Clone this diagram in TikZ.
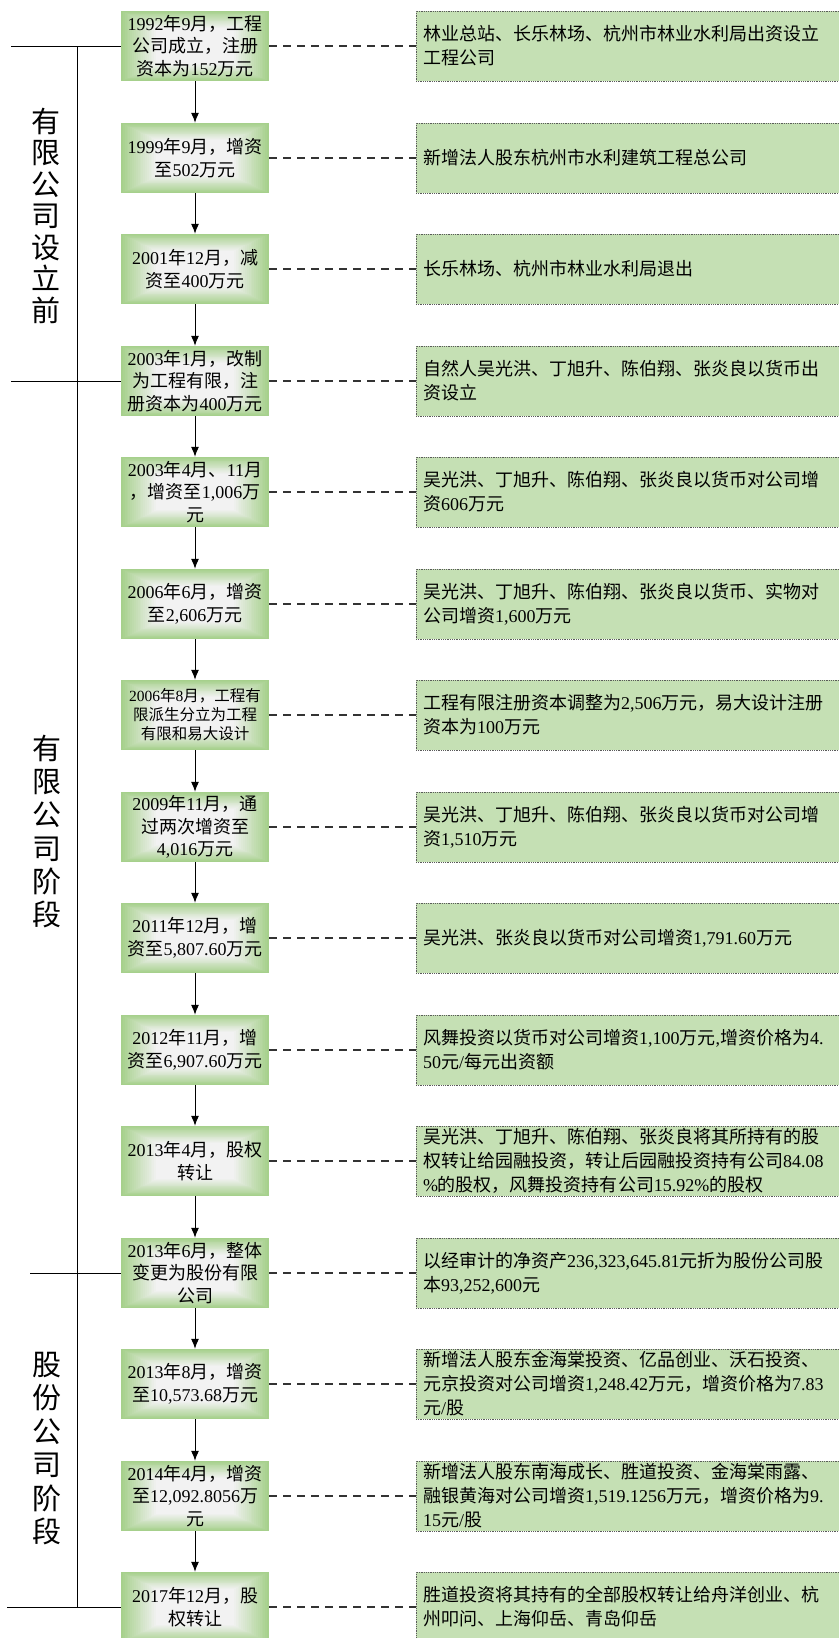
\documentclass[tikz,border=0pt]{standalone}
\usepackage{fontspec}
\setmainfont{Liberation Serif}
\newfontfamily\latinfont{Liberation Serif}
\newfontfamily\cjkfont{Noto Sans CJK SC}
\usetikzlibrary{calc,arrows.meta}
\XeTeXinterchartokenstate=1
\newXeTeXintercharclass\cjkcls
\newcount\cjkc
\def\setcjkrange#1#2{\cjkc=#1\relax\loop\XeTeXcharclass\cjkc=\cjkcls\relax\ifnum\cjkc<#2\relax\advance\cjkc by 1\relax\repeat}
\setcjkrange{"4E00}{"9FFF}
\setcjkrange{"3000}{"303F}
\setcjkrange{"FF00}{"FFEF}
\XeTeXinterchartoks 0 \cjkcls = {\cjkfont}
\XeTeXinterchartoks 4095 \cjkcls = {\cjkfont}
\XeTeXinterchartoks \cjkcls 0 = {\latinfont}
\XeTeXinterchartoks \cjkcls 4095 = {\latinfont}
\definecolor{boxgreen}{RGB}{166,208,140}
\definecolor{boxlight}{RGB}{242,242,242}
\definecolor{rfill}{RGB}{197,224,180}
\definecolor{rborder}{RGB}{90,90,90}
\tikzset{
  lbox/.style={minimum width=148pt, minimum height=70pt, inner sep=2pt, align=center,
    fill=boxgreen, font=\fontsize{18}{22.5}\selectfont,
    path picture={
      \foreach \k in {1,...,40}{
        \pgfmathsetmacro\ff{\k/80}
        \pgfmathsetmacro\pp{min(100,\k*100/19)}
        \fill[boxlight!\pp!boxgreen]
          ($(path picture bounding box.south west)!\ff!(path picture bounding box.north east)$)
          rectangle
          ($(path picture bounding box.north east)!\ff!(path picture bounding box.south west)$);
      }
    }},
  rbox/.style={minimum width=424pt, minimum height=70pt, text width=410pt,
    inner xsep=7pt, inner ysep=2pt, align=left, fill=rfill, draw=rborder,
    line width=0.8pt, dash pattern=on 0.9pt off 0.9pt,
    font=\fontsize{18}{24}\selectfont},
  flowarrow/.style={line width=1pt, -{Latex[length=10pt,width=8pt]}},
  linkline/.style={line width=1.3pt, draw=black!80, dash pattern=on 8pt off 6pt},
  sepline/.style={line width=1pt},
  phase/.style={align=center, inner sep=0pt}
}
\begin{document}
\begin{tikzpicture}[x=1pt,y=-1pt]
\useasboundingbox (0,0) rectangle (838,1638);
% left boxes
\node[lbox] (L1) at (195,46) {1992年9月，工程\\公司成立，注册\\资本为152万元};
\node[lbox] (L2) at (195,158) {1999年9月，增资\\至502万元};
\node[lbox] (L3) at (195,269) {2001年12月，减\\资至400万元};
\node[lbox] (L4) at (195,381) {2003年1月，改制\\为工程有限，注\\册资本为400万元};
\node[lbox] (L5) at (195,492) {2003年4月、11月\\，增资至1,006万\\元};
\node[lbox] (L6) at (195,604) {2006年6月，增资\\至2,606万元};
\node[lbox, font=\fontsize{15.5}{19}\selectfont] (L7) at (195,715) {2006年8月，工程有\\限派生分立为工程\\有限和易大设计};
\node[lbox] (L8) at (195,827) {2009年11月，通\\过两次增资至\\4,016万元};
\node[lbox] (L9) at (195,938) {2011年12月，增\\资至5,807.60万元};
\node[lbox] (L10) at (195,1050) {2012年11月，增\\资至6,907.60万元};
\node[lbox] (L11) at (195,1161) {2013年4月，股权\\转让};
\node[lbox] (L12) at (195,1273) {2013年6月，整体\\变更为股份有限\\公司};
\node[lbox] (L13) at (195,1384) {2013年8月，增资\\至10,573.68万元};
\node[lbox] (L14) at (195,1496) {2014年4月，增资\\至12,092.8056万\\元};
\node[lbox] (L15) at (195,1607) {2017年12月，股\\权转让};
% right boxes
\node[rbox] (R1) at (628,46) {林业总站、长乐林场、杭州市林业水利局出资设立\\工程公司};
\node[rbox] (R2) at (628,158) {新增法人股东杭州市水利建筑工程总公司};
\node[rbox] (R3) at (628,269) {长乐林场、杭州市林业水利局退出};
\node[rbox] (R4) at (628,381) {自然人吴光洪、丁旭升、陈伯翔、张炎良以货币出\\资设立};
\node[rbox] (R5) at (628,492) {吴光洪、丁旭升、陈伯翔、张炎良以货币对公司增\\资606万元};
\node[rbox] (R6) at (628,604) {吴光洪、丁旭升、陈伯翔、张炎良以货币、实物对\\公司增资1,600万元};
\node[rbox] (R7) at (628,715) {工程有限注册资本调整为2,506万元，易大设计注册\\资本为100万元};
\node[rbox] (R8) at (628,827) {吴光洪、丁旭升、陈伯翔、张炎良以货币对公司增\\资1,510万元};
\node[rbox] (R9) at (628,938) {吴光洪、张炎良以货币对公司增资1,791.60万元};
\node[rbox] (R10) at (628,1050) {风舞投资以货币对公司增资1,100万元,增资价格为4.\\50元/每元出资额};
\node[rbox] (R11) at (628,1161) {吴光洪、丁旭升、陈伯翔、张炎良将其所持有的股\\权转让给园融投资，转让后园融投资持有公司84.08\\\%的股权，风舞投资持有公司15.92\%的股权};
\node[rbox] (R12) at (628,1273) {以经审计的净资产236,323,645.81元折为股份公司股\\本93,252,600元};
\node[rbox] (R13) at (628,1384) {新增法人股东金海棠投资、亿品创业、沃石投资、\\元京投资对公司增资1,248.42万元，增资价格为7.83\\元/股};
\node[rbox] (R14) at (628,1496) {新增法人股东南海成长、胜道投资、金海棠雨露、\\融银黄海对公司增资1,519.1256万元，增资价格为9.\\15元/股};
\node[rbox] (R15) at (628,1607) {胜道投资将其持有的全部股权转让给舟洋创业、杭\\州叩问、上海仰岳、青岛仰岳};
% dashed links
\foreach \i in {1,...,15}{
  \draw[linkline] (L\i.east) -- (R\i.west);
}
% arrows
\foreach \i [evaluate=\i as \j using int(\i+1)] in {1,...,14}{
  \draw[flowarrow] (L\i.south) -- (L\j.north);
}
% phase separators
\coordinate (s1) at (11,46);
\coordinate (s2) at (11,381);
\coordinate (s3) at (30,1273);
\coordinate (s4) at (7,1607);
\coordinate (vt) at (77,46);
\coordinate (vb) at (77,1607);
\draw[sepline] (s1) -- (L1.west);
\draw[sepline] (s2) -- (L4.west);
\draw[sepline] (s3) -- (L12.west);
\draw[sepline] (s4) -- (L15.west);
\draw[sepline] (vt) -- (vb);
% phase labels
\node[phase, font=\fontsize{29}{31.5}\selectfont] (P1) at (46,215.5) {有\\限\\公\\司\\设\\立\\前};
\node[phase, font=\fontsize{29}{33.2}\selectfont] (P2) at (47,831.5) {有\\限\\公\\司\\阶\\段};
\node[phase, font=\fontsize{29}{33.4}\selectfont] (P3) at (47,1448.5) {股\\份\\公\\司\\阶\\段};
\end{tikzpicture}
\end{document}
